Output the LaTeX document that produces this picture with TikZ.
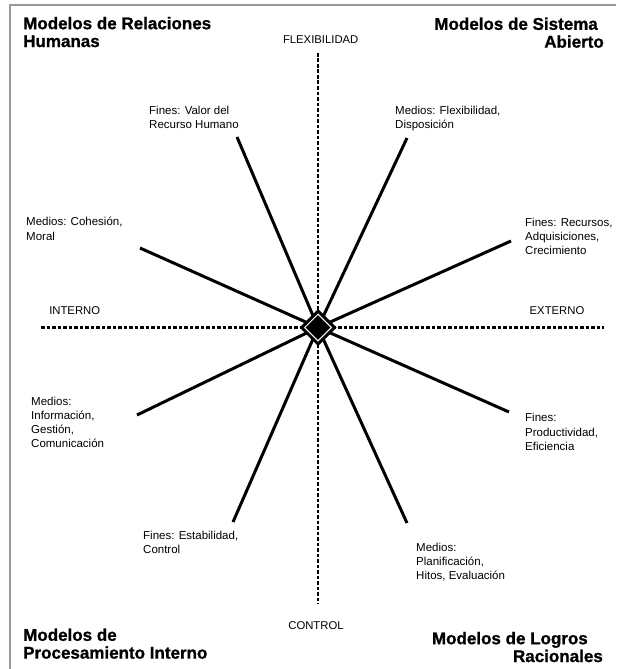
\documentclass[tikz,border=0pt]{standalone}
\usepackage{fontspec}
\setmainfont{Liberation Sans}
\newfontfamily\heavyfont[BoldFeatures={FakeBold=1.0}]{Liberation Sans}
\usetikzlibrary{shapes.geometric}
\begin{document}
\begin{tikzpicture}[x=1pt,y=-1pt,
  lbl/.style={font=\fontsize{11.5}{14.2}\selectfont, inner sep=0pt, align=left, anchor=north west},
  axlbl/.style={font=\fontsize{11.3}{14}\selectfont, inner sep=0pt, anchor=north},
  ttl/.style={font=\heavyfont\fontsize{17}{17.8}\selectfont\bfseries, inner sep=0pt},
  axisline/.style={line width=2.3pt, dash pattern=on 3.8pt off 1.7pt},
  spoke/.style={line width=3pt},
  framel/.style={draw=black!40, line width=2pt},
  outerdia/.style={diamond, draw=black, line width=3pt, fill=white, minimum width=34pt, minimum height=34pt, inner sep=0pt},
  innerdia/.style={diamond, fill=black, minimum width=25pt, minimum height=25pt, inner sep=0pt}]
\useasboundingbox (0,0) rectangle (616,669);
\fill[white] (0,0) rectangle (616,669);
\draw[framel] (10,669) -- (10,5) -- (616,5);

% titles
\node[ttl, anchor=north west, align=left] (tl) at (23,16.7) {Modelos de Relaciones\\Humanas};
\node[ttl, anchor=north east, align=right] (tr) at (604,17.3) {Modelos de Sistema\hspace*{6pt}\\Abierto};
\node[ttl, anchor=north west, align=left] (bl) at (23,628.3) {Modelos de\\Procesamiento Interno};
\node[ttl, anchor=north east, align=right] (br) at (603,631.7) {Modelos de Logros\hspace*{15pt}\\Racionales};

% axis labels
\node[axlbl] (flex) at (320.7,36) {FLEXIBILIDAD};
\node[axlbl] (ctrl) at (316,621.7) {CONTROL};
\node[axlbl] (int) at (74.7,306) {INTERNO};
\node[axlbl] (ext) at (557,306) {EXTERNO};

% labels
\node[lbl] (l1) at (149,106) {Fines: Valor del\\Recurso Humano};
\node[lbl] (l2) at (395,106) {Medios: Flexibilidad,\\Disposición};
\node[lbl] (l3) at (26,217.3) {Medios: Cohesión,\\Moral};
\node[lbl] (l4) at (525,217.7) {Fines: Recursos,\\Adquisiciones,\\Crecimiento};
\node[lbl] (l5) at (31,396.7) {Medios:\\Información,\\Gestión,\\Comunicación};
\node[lbl] (l6) at (525,413.3) {Fines:\\Productividad,\\Eficiencia};
\node[lbl] (l7) at (143,531) {Fines: Estabilidad,\\Control};
\node[lbl] (l8) at (416,543) {Medios:\\Planificación,\\Hitos, Evaluación};

% geometry
\coordinate (o) at (318,327.5);
\coordinate (n) at (318,53);
\coordinate (s) at (318,604);
\coordinate (w) at (41,327.5);
\coordinate (ea) at (604,327.5);
\coordinate (e1) at (237,137);
\coordinate (e2) at (407,138);
\coordinate (e3) at (140,248);
\coordinate (e4) at (511,241);
\coordinate (e5) at (137,415);
\coordinate (e6) at (509,412);
\coordinate (e7) at (233,522);
\coordinate (e8) at (407,523);

\draw[axisline] (n) -- (s);
\draw[axisline] (w) -- (ea);
\foreach \e in {e1,e2,e3,e4,e5,e6,e7,e8} \draw[spoke] (o) -- (\e);

\node[outerdia] (c) at (o) {};
\node[innerdia] (ci) at (o) {};
\end{tikzpicture}
\end{document}
